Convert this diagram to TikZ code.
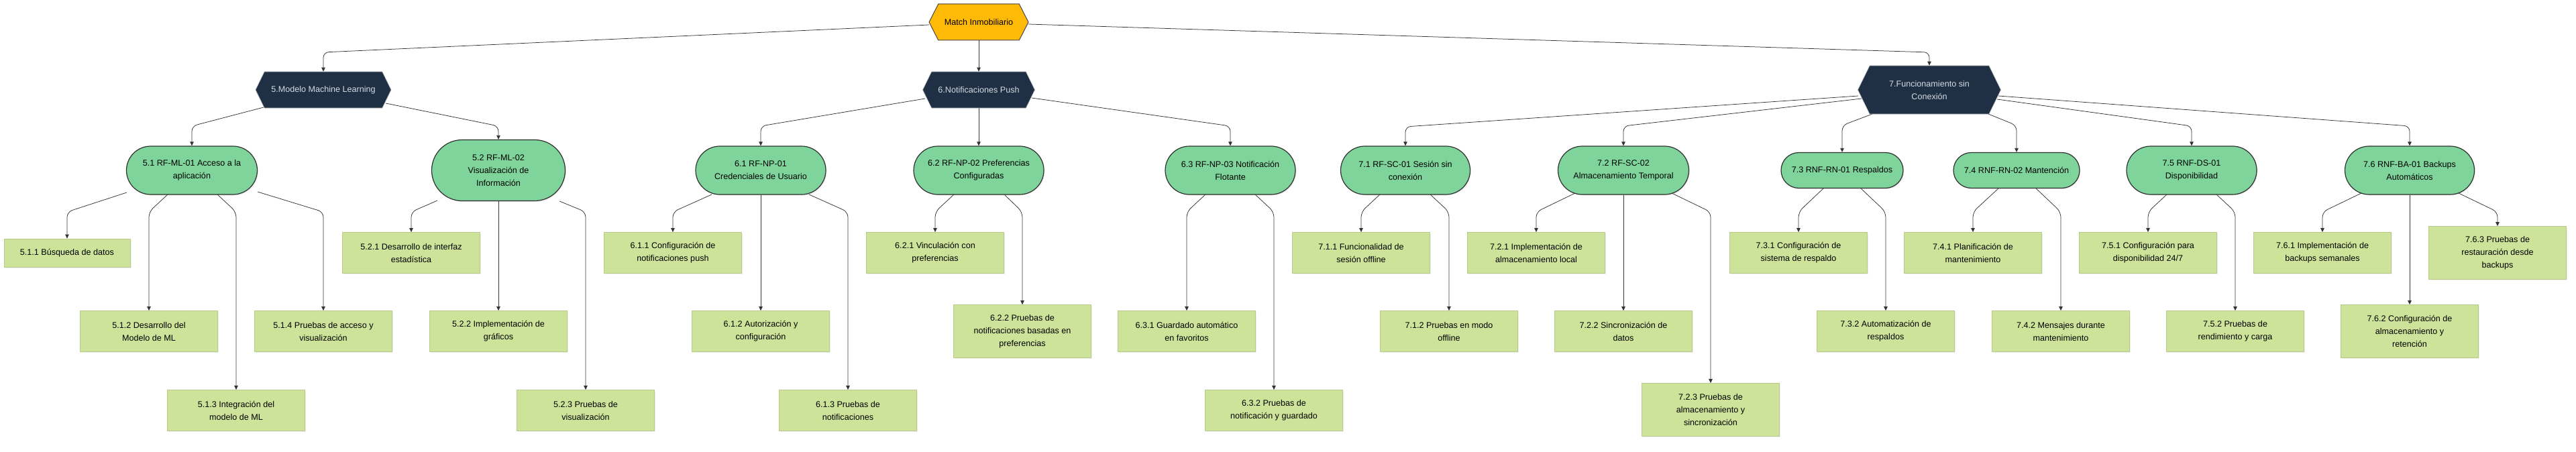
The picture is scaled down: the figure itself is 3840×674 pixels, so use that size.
\documentclass[tikz,border=0pt]{standalone}
\usepackage{fontspec}
\setmainfont{Liberation Sans}
\usetikzlibrary{shapes.symbols,shapes.misc,arrows.meta,calc,shadows,backgrounds}
\definecolor{rootfill}{HTML}{FFBA08}
\definecolor{rootborder}{HTML}{474747}
\definecolor{navy}{HTML}{1F3045}
\definecolor{hextext}{HTML}{D5DBE2}
\definecolor{reqfill}{HTML}{7FD49B}
\definecolor{reqborder}{HTML}{303030}
\definecolor{taskfill}{HTML}{CDE39A}
\definecolor{taskborder}{HTML}{B8CA8C}
\definecolor{linecol}{HTML}{333333}
\newcommand\lnk[5]{\draw[conn] ($(#1)+(#2,#3)$) -- (#4.north |- 0,#5) -- (#4.north);}
\begin{document}
\begin{tikzpicture}[x=1pt,y=-1pt,
  every node/.style={font=\fontsize{12.6}{19}\selectfont, align=center, inner sep=0pt},
  roothex/.style={shape=signal, signal to=west and east, signal pointer angle=126,
    fill=rootfill, draw=rootborder, line width=1pt, minimum height=54pt},
  hexnode/.style={shape=signal, signal to=west and east, signal pointer angle=128,
    fill=navy, draw=gray!60, line width=0.6pt, text=hextext},
  req/.style={shape=rounded rectangle, fill=reqfill, draw=reqborder, line width=1.2pt,
    drop shadow={opacity=0.15, shadow xshift=1.5pt, shadow yshift=-1.5pt}},
  task/.style={rectangle, fill=taskfill, draw=taskborder, line width=0.7pt,
    minimum width=205pt, minimum height=61pt,
    drop shadow={opacity=0.12, shadow xshift=1.5pt, shadow yshift=-1.5pt}},
  conn/.style={draw=linecol, line width=0.75pt, rounded corners=8pt,
    -{Triangle[length=6pt,width=5.5pt]}}]
\useasboundingbox (0,0) rectangle (3840,674);
% level 0 and 1
\node[roothex, minimum width=148pt] (root) at (1459,33) {Match Inmobiliario};
\node[hexnode, minimum width=202pt, minimum height=54pt] (ml) at (482,134) {5.Modelo Machine Learning};
\node[hexnode, minimum width=167pt, minimum height=54pt] (np) at (1459,134) {6.Notificaciones Push};
\node[hexnode, minimum width=213pt, minimum height=72pt] (fsc) at (2876,134) {7.Funcionamiento sin\\Conexión};
% level 2
\node[req, minimum width=195pt, minimum height=72pt] (r51) at (286,254) {5.1 RF-ML-01 Acceso a la\\aplicación};
\node[req, minimum width=199pt, minimum height=91pt] (r52) at (743,254) {5.2 RF-ML-02\\Visualización de\\Información};
\node[req, minimum width=194pt, minimum height=72pt] (r61) at (1134,254) {6.1 RF-NP-01\\Credenciales de Usuario};
\node[req, minimum width=194pt, minimum height=72pt] (r62) at (1459,254) {6.2 RF-NP-02 Preferencias\\Configuradas};
\node[req, minimum width=194pt, minimum height=72pt] (r63) at (1834,254) {6.3 RF-NP-03 Notificación\\Flotante};
\node[req, minimum width=193pt, minimum height=72pt] (r71) at (2095,254) {7.1 RF-SC-01 Sesión sin\\conexión};
\node[req, minimum width=195pt, minimum height=72pt] (r72) at (2420,254) {7.2 RF-SC-02\\Almacenamiento Temporal};
\node[req, minimum width=182pt, minimum height=53pt] (r73) at (2746,254) {7.3 RNF-RN-01 Respaldos};
\node[req, minimum width=188pt, minimum height=53pt] (r74) at (3006,254) {7.4 RNF-RN-02 Mantención};
\node[req, minimum width=194pt, minimum height=72pt] (r75) at (3267,254) {7.5 RNF-DS-01\\Disponibilidad};
\node[req, minimum width=193pt, minimum height=72pt] (r76) at (3592,254) {7.6 RNF-BA-01 Backups\\Automáticos};
% level 3
\node[task, minimum width=188pt, minimum height=42pt] (t511) at (100,377) {5.1.1 Búsqueda de datos};
\node[task] (t512) at (222,494) {5.1.2 Desarrollo del\\Modelo de ML};
\node[task] (t513) at (352,612) {5.1.3 Integración del\\modelo de ML};
\node[task] (t514) at (482,494) {5.1.4 Pruebas de acceso y\\visualización};
\node[task] (t521) at (613,377) {5.2.1 Desarrollo de interfaz\\estadística};
\node[task] (t522) at (743,494) {5.2.2 Implementación de\\gráficos};
\node[task] (t523) at (873,612) {5.2.3 Pruebas de\\visualización};
\node[task] (t611) at (1003,377) {6.1.1 Configuración de\\notificaciones push};
\node[task] (t612) at (1134,494) {6.1.2 Autorización y\\configuración};
\node[task] (t613) at (1264,612) {6.1.3 Pruebas de\\notificaciones};
\node[task] (t621) at (1394,377) {6.2.1 Vinculación con\\preferencias};
\node[task, minimum height=79pt] (t622) at (1524,494) {6.2.2 Pruebas de\\notificaciones basadas en\\preferencias};
\node[task] (t631) at (1769,494) {6.3.1 Guardado automático\\en favoritos};
\node[task] (t632) at (1899,612) {6.3.2 Pruebas de\\notificación y guardado};
\node[task] (t711) at (2029,377) {7.1.1 Funcionalidad de\\sesión offline};
\node[task] (t712) at (2160,494) {7.1.2 Pruebas en modo\\offline};
\node[task] (t721) at (2290,377) {7.2.1 Implementación de\\almacenamiento local};
\node[task] (t722) at (2420,494) {7.2.2 Sincronización de\\datos};
\node[task, minimum height=79pt] (t723) at (2550,611) {7.2.3 Pruebas de\\almacenamiento y\\sincronización};
\node[task] (t731) at (2681,377) {7.3.1 Configuración de\\sistema de respaldo};
\node[task] (t732) at (2811,494) {7.3.2 Automatización de\\respaldos};
\node[task] (t741) at (2941,377) {7.4.1 Planificación de\\mantenimiento};
\node[task] (t742) at (3072,494) {7.4.2 Mensajes durante\\mantenimiento};
\node[task] (t751) at (3202,377) {7.5.1 Configuración para\\disponibilidad 24/7};
\node[task] (t752) at (3332,494) {7.5.2 Pruebas de\\rendimiento y carga};
\node[task] (t761) at (3462,377) {7.6.1 Implementación de\\backups semanales};
\node[task, minimum height=79pt] (t762) at (3592,494) {7.6.2 Configuración de\\almacenamiento y\\retención};
\node[task, minimum height=79pt] (t763) at (3723,377) {7.6.3 Pruebas de\\restauración desde\\backups};
\begin{scope}[on background layer]
\fill[white] (0,0) rectangle (3840,674);
% root edges
\lnk{root}{-74}{4}{ml}{78}
\draw[conn] (root.south) -- (np.north);
\lnk{root}{74}{3}{fsc}{78}
% hex edges
\lnk{ml}{-89}{26}{r51}{188}
\lnk{ml}{93}{20}{r52}{188}
\lnk{np}{-80}{13}{r61}{188}
\draw[conn] (np.south) -- (r62.north);
\lnk{np}{79}{12}{r63}{188}
\lnk{fsc}{-106}{9}{r71}{189}
\lnk{fsc}{-101}{13}{r72}{188}
\lnk{fsc}{-85}{36}{r73}{187}
\lnk{fsc}{88}{36}{r74}{187}
\lnk{fsc}{101}{14}{r75}{188}
\lnk{fsc}{103}{9}{r76}{188}
% requirement edges
\lnk{r51}{-97}{33}{t511}{316}
\lnk{r51}{-36}{36}{t512}{316}
\lnk{r51}{38}{36}{t513}{316}
\lnk{r51}{98}{32}{t514}{316}
\lnk{r52}{-91}{45}{t521}{316}
\draw[conn] (r52.south) -- (t522.north);
\lnk{r52}{91}{46}{t523}{316}
\lnk{r61}{-73}{36}{t611}{316}
\draw[conn] (r61.south) -- (t612.north);
\lnk{r61}{72}{36}{t613}{316}
\lnk{r62}{-37}{36}{t621}{316}
\lnk{r62}{38}{36}{t622}{316}
\lnk{r63}{-37}{36}{t631}{316}
\lnk{r63}{37}{36}{t632}{316}
\lnk{r71}{-38}{36}{t711}{316}
\lnk{r71}{37}{36}{t712}{316}
\lnk{r72}{-72}{34}{t721}{316}
\draw[conn] (r72.south) -- (t722.north);
\lnk{r72}{72}{34}{t723}{316}
\lnk{r73}{-28}{27}{t731}{316}
\lnk{r73}{28}{27}{t732}{316}
\lnk{r74}{-27}{27}{t741}{316}
\lnk{r74}{29}{27}{t742}{316}
\lnk{r75}{-37}{36}{t751}{316}
\lnk{r75}{37}{36}{t752}{316}
\lnk{r76}{-72}{34}{t761}{316}
\draw[conn] (r76.south) -- (t762.north);
\lnk{r76}{73}{34}{t763}{316}
\end{scope}
\end{tikzpicture}
\end{document}
